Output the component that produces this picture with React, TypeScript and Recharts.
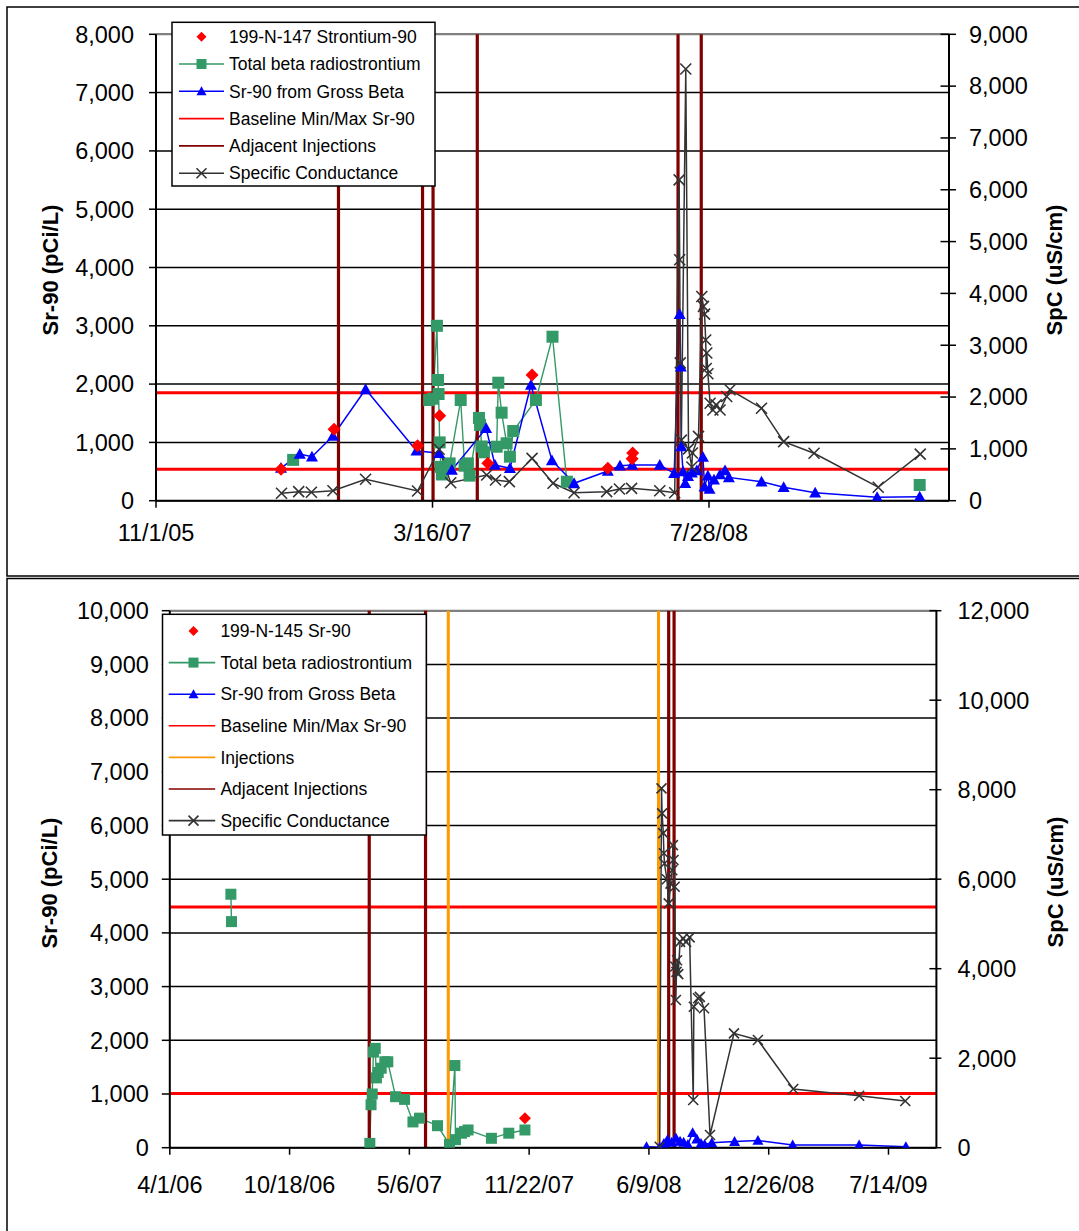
import React from "react";
import { ComposedChart, Line, XAxis, YAxis, CartesianGrid, ReferenceLine } from "recharts";

const RED = "#FF0000";
const GREEN = "#339966";
const BLUE = "#0000FF";
const DARK_RED = "#800000";
const ORANGE = "#FF9900";
const SPC = "#333333";
const FONT = '"Liberation Sans", Arial, Helvetica, sans-serif';
const TICK_FONT = 23.5;

type Row = [string, number | null];

// ---------- upper panel: well 199-N-147 ----------
const topXTicks = ["2005-11-01", "2007-03-16", "2008-07-28"];
const topXEnd = "2009-10-05";
const topLeftTicks = [0, 1000, 2000, 3000, 4000, 5000, 6000, 7000, 8000];
const topRightTicks = [0, 1000, 2000, 3000, 4000, 5000, 6000, 7000, 8000, 9000];
const topBaselines = [540, 1853];
const topInjections: string[] = [];
const topAdjacent = ["2006-09-27", "2007-02-26", "2007-03-17", "2007-06-05", "2008-06-02", "2008-07-14"];

const topSr90: Row[] = [
  ["2006-06-15", 540], ["2006-09-19", 1225], ["2007-02-17", 943], ["2007-03-29", 1458],
  ["2007-06-24", 641], ["2007-09-12", 2156], ["2008-01-27", 556], ["2008-03-11", 720],
  ["2008-03-12", 820],
];

const topTotalBeta: Row[] = [
  ["2006-07-07", 700], ["2006-12-01", null],
  ["2007-03-10", 1727], ["2007-03-17", 1750], ["2007-03-24", 3000], ["2007-03-26", 2070],
  ["2007-03-27", 1830], ["2007-03-29", 1000], ["2007-03-31", 580], ["2007-04-02", 450],
  ["2007-04-09", 560], ["2007-04-16", 640], ["2007-05-06", 1727], ["2007-05-13", 600],
  ["2007-05-19", 640], ["2007-05-22", 430], ["2007-06-08", 1420], ["2007-06-10", 1300],
  ["2007-06-13", 930], ["2007-06-17", 830], ["2007-07-10", 926], ["2007-07-13", 2024],
  ["2007-07-19", 1510], ["2007-07-28", 985], ["2007-08-03", 755], ["2007-08-09", 1195],
  ["2007-09-19", 1727], ["2007-10-19", 2813], ["2007-11-14", 326], ["2008-12-01", null],
  ["2009-08-13", 270],
];

const topGrossBeta: Row[] = [
  ["2006-06-15", 560], ["2006-07-19", 800], ["2006-08-10", 755], ["2006-09-17", 1110],
  ["2006-11-15", 1910], ["2007-02-15", 858], ["2007-03-28", 813], ["2007-04-20", 527],
  ["2007-06-21", 1242], ["2007-07-07", 612], ["2007-08-03", 556], ["2007-09-10", 1985],
  ["2007-10-18", 690], ["2007-11-27", 298], ["2008-01-27", 509], ["2008-02-18", 600],
  ["2008-03-11", 612], ["2008-04-30", 612], ["2008-05-26", 470], ["2008-06-05", 3200],
  ["2008-06-07", 2300], ["2008-06-08", 930], ["2008-06-11", 500], ["2008-06-15", 300],
  ["2008-06-20", 420], ["2008-06-27", 480], ["2008-07-06", 520], ["2008-07-17", 750],
  ["2008-07-20", 240], ["2008-07-26", 430], ["2008-07-29", 200], ["2008-08-06", 360],
  ["2008-08-17", 450], ["2008-08-26", 520], ["2008-09-02", 400], ["2008-10-31", 326],
  ["2008-12-10", 230], ["2009-02-05", 137], ["2009-05-28", 58], ["2009-08-13", 69],
];

const topSpc: Row[] = [
  ["2006-06-16", 143], ["2006-07-17", 174], ["2006-08-09", 162], ["2006-09-17", 193],
  ["2006-11-15", 413], ["2007-02-17", 187], ["2007-03-28", 992], ["2007-04-18", 347],
  ["2007-06-22", 496], ["2007-07-08", 400], ["2007-08-02", 367], ["2007-09-12", 818],
  ["2007-10-20", 336], ["2007-11-27", 154], ["2008-01-25", 174], ["2008-02-17", 226],
  ["2008-03-10", 239], ["2008-04-30", 193], ["2008-05-27", 154], ["2008-06-04", 6190],
  ["2008-06-05", 4650], ["2008-06-06", 2660], ["2008-06-08", 1170], ["2008-06-16", 8330],
  ["2008-06-21", 1000], ["2008-06-27", 650], ["2008-06-28", 920], ["2008-07-09", 1240],
  ["2008-07-15", 3940], ["2008-07-18", 3750], ["2008-07-20", 3600], ["2008-07-22", 3100],
  ["2008-07-23", 2550], ["2008-07-24", 2850], ["2008-07-26", 2450], ["2008-07-30", 1880],
  ["2008-08-04", 1750], ["2008-08-10", 1850], ["2008-08-17", 1750], ["2008-08-29", 2010],
  ["2008-09-04", 2140], ["2008-10-31", 1785], ["2008-12-10", 1140], ["2009-02-03", 915],
  ["2009-05-30", 260], ["2009-08-14", 900],
];

// ---------- lower panel: well 199-N-145 ----------
const botXTicks = ["2006-04-01", "2006-10-18", "2007-05-06", "2007-11-22", "2008-06-09", "2008-12-26", "2009-07-14"];
const botXEnd = "2009-10-02";
const botLeftTicks = [0, 1000, 2000, 3000, 4000, 5000, 6000, 7000, 8000, 9000, 10000];
const botRightTicks = [0, 2000, 4000, 6000, 8000, 10000, 12000];
const botBaselines = [1010, 4480];
const botInjections = ["2007-07-10", "2008-06-25"];
const botAdjacent = ["2007-02-28", "2007-06-02", "2008-07-12", "2008-07-21"];

const botSr90: Row[] = [["2007-11-15", 547]];

const botTotalBeta: Row[] = [
  ["2006-07-12", 4720], ["2006-07-13", 4210], ["2006-11-01", null],
  ["2007-03-01", 80], ["2007-03-03", 800], ["2007-03-05", 1000], ["2007-03-07", 1780],
  ["2007-03-10", 1850], ["2007-03-12", 1300], ["2007-03-15", 1400], ["2007-03-20", 1480],
  ["2007-03-26", 1600], ["2007-03-31", 1600], ["2007-04-13", 950], ["2007-04-28", 900],
  ["2007-05-12", 480], ["2007-05-23", 550], ["2007-06-22", 410], ["2007-07-12", 60],
  ["2007-07-21", 1530], ["2007-07-22", 150], ["2007-08-01", 270], ["2007-08-06", 300],
  ["2007-08-12", 330], ["2007-09-20", 175], ["2007-10-19", 270], ["2007-11-15", 330],
];

const botGrossBeta: Row[] = [
  ["2008-06-05", 20], ["2008-06-27", 10], ["2008-07-04", 80], ["2008-07-10", 150],
  ["2008-07-17", 100], ["2008-07-24", 180], ["2008-07-31", 120], ["2008-08-06", 100],
  ["2008-08-13", 60], ["2008-08-21", 280], ["2008-08-28", 160], ["2008-09-04", 80],
  ["2008-09-10", 60], ["2008-09-22", 90], ["2008-10-30", 115], ["2008-12-08", 135],
  ["2009-02-04", 50], ["2009-05-26", 50], ["2009-08-12", 20],
];

const botSpc: Row[] = [
  ["2008-06-27", 20], ["2008-06-30", 8030], ["2008-07-01", 7470], ["2008-07-03", 7030],
  ["2008-07-04", 6580], ["2008-07-05", 6350], ["2008-07-09", 6000], ["2008-07-12", 5460],
  ["2008-07-15", 5900], ["2008-07-18", 6200], ["2008-07-19", 6760], ["2008-07-20", 6430],
  ["2008-07-22", 5830], ["2008-07-23", 4050], ["2008-07-24", 3300], ["2008-07-25", 3930],
  ["2008-07-26", 4190], ["2008-07-28", 3880], ["2008-07-31", 4600], ["2008-08-05", 4680],
  ["2008-08-10", 4600], ["2008-08-16", 4700], ["2008-08-22", 1066], ["2008-08-23", 3150],
  ["2008-08-30", 3340], ["2008-09-02", 3370], ["2008-09-09", 3115], ["2008-09-19", 284],
  ["2008-10-29", 2556], ["2008-12-08", 2407], ["2009-02-05", 1312], ["2009-05-26", 1162],
  ["2009-08-11", 1043],
];

// Excel-style day serials so the axis ticks land on the same dates
const toSerial = (d: string) => {
  const [y, m, dd] = d.split("-").map(Number);
  return Date.UTC(y, m - 1, dd) / 86400000 + 25569;
};
const fmtDate = (s: number) => {
  const dt = new Date(Math.round(s - 25569) * 86400000);
  return `${dt.getUTCMonth() + 1}/${dt.getUTCDate()}/${String(dt.getUTCFullYear()).slice(2)}`;
};
const fmtNum = (v: number) => v.toLocaleString("en-US");
const series = (rows: Row[]) => rows.map(([d, v]) => ({ t: toSerial(d), v }));

type MarkKind = "diamond" | "square" | "triangle" | "cross";

function Marker({ kind, cx, cy, size, color }: { kind: MarkKind; cx: any; cy: any; size: number; color: string }) {
  if (cx == null || cy == null || isNaN(cx) || isNaN(cy)) return <g />;
  const h = size / 2;
  if (kind === "diamond")
    return <path d={`M${cx},${cy - h}L${cx + h},${cy}L${cx},${cy + h}L${cx - h},${cy}Z`} fill={color} />;
  if (kind === "square") return <rect x={cx - h} y={cy - h} width={size} height={size} fill={color} />;
  if (kind === "triangle")
    return <path d={`M${cx},${cy - h}L${cx + h},${cy + h * 0.8}L${cx - h},${cy + h * 0.8}Z`} fill={color} />;
  return (
    <path
      d={`M${cx - h},${cy - h}L${cx + h},${cy + h}M${cx + h},${cy - h}L${cx - h},${cy + h}`}
      stroke={color}
      strokeWidth={1.6}
      fill="none"
    />
  );
}

const dotOf = (kind: MarkKind, color: string, size: number) => (p: any) =>
  <Marker key={`${kind}-${p.index}`} kind={kind} cx={p.cx} cy={p.cy} size={size} color={color} />;

const rightTick = (inside: number, outside: number, gap: number) => (t: any) => {
  const ax = t.x - gap;
  return (
    <g>
      <line x1={ax - inside} x2={ax + outside} y1={t.y} y2={t.y} stroke="#000" strokeWidth={1.5} />
      <text x={t.x} y={t.y} dy="0.355em" textAnchor="start" fontSize={TICK_FONT} fontFamily={FONT} fill="#000">
        {fmtNum(t.payload.value)}
      </text>
    </g>
  );
};

type PanelProps = {
  height: number;
  margin: { top: number; right: number; bottom: number; left: number };
  axisW: number;
  xTicks: string[];
  xEnd: string;
  leftTicks: number[];
  rightTicks: number[];
  sr90: Row[];
  totalBeta: Row[];
  grossBeta: Row[];
  spc: Row[];
  baselines: number[];
  injections: string[];
  adjacent: string[];
  xGap: number;
  leftTickSize: number;
  leftGap: number;
  rIn: number;
  rOut: number;
  rGap: number;
  mark: number;
};

function WellChart(p: PanelProps) {
  const leftMax = p.leftTicks[p.leftTicks.length - 1];
  const rightMax = p.rightTicks[p.rightTicks.length - 1];
  const tickStyle = { fill: "#000", fontSize: TICK_FONT, fontFamily: FONT };
  return (
    <ComposedChart width={1079} height={p.height} margin={p.margin}>
      <CartesianGrid yAxisId="l" vertical={false} stroke="#000" strokeWidth={1.5} />
      <XAxis
        type="number"
        dataKey="t"
        domain={[toSerial(p.xTicks[0]), toSerial(p.xEnd)]}
        ticks={p.xTicks.map(toSerial)}
        tickFormatter={fmtDate}
        interval={0}
        allowDataOverflow
        height={40}
        tickSize={7}
        tickMargin={p.xGap}
        axisLine={{ stroke: "#000", strokeWidth: 2 }}
        tickLine={{ stroke: "#000", strokeWidth: 1.5 }}
        tick={tickStyle}
      />
      <YAxis
        yAxisId="l"
        type="number"
        domain={[0, leftMax]}
        ticks={p.leftTicks}
        interval={0}
        allowDataOverflow
        width={p.axisW}
        tickFormatter={fmtNum}
        tickSize={p.leftTickSize}
        tickMargin={p.leftGap}
        axisLine={{ stroke: "#000", strokeWidth: 2 }}
        tickLine={{ stroke: "#000", strokeWidth: 1.5 }}
        tick={tickStyle}
      />
      <YAxis
        yAxisId="r"
        orientation="right"
        type="number"
        domain={[0, rightMax]}
        ticks={p.rightTicks}
        interval={0}
        allowDataOverflow
        width={p.axisW}
        tickSize={p.rOut}
        tickMargin={p.rGap - p.rOut}
        tickLine={false}
        axisLine={{ stroke: "#000", strokeWidth: 2 }}
        tick={rightTick(p.rIn, p.rOut, p.rGap)}
      />
      <ReferenceLine yAxisId="l" y={leftMax} stroke="#808080" strokeWidth={2} />
      {p.baselines.map((v) => (
        <ReferenceLine key={`b${v}`} yAxisId="l" y={v} stroke={RED} strokeWidth={3} />
      ))}
      <Line
        yAxisId="l"
        data={series(p.totalBeta)}
        dataKey="v"
        stroke={GREEN}
        strokeWidth={1.4}
        dot={dotOf("square", GREEN, p.mark)}
        activeDot={false}
        isAnimationActive={false}
      />
      <Line
        yAxisId="l"
        data={series(p.grossBeta)}
        dataKey="v"
        stroke={BLUE}
        strokeWidth={1.5}
        dot={dotOf("triangle", BLUE, p.mark)}
        activeDot={false}
        isAnimationActive={false}
      />
      <Line
        yAxisId="l"
        data={series(p.sr90)}
        dataKey="v"
        stroke="none"
        dot={dotOf("diamond", RED, p.mark + 1)}
        activeDot={false}
        isAnimationActive={false}
      />
      {p.injections.map((d) => (
        <ReferenceLine key={`i${d}`} yAxisId="l" x={toSerial(d)} stroke={ORANGE} strokeWidth={3} />
      ))}
      {p.adjacent.map((d) => (
        <ReferenceLine key={`a${d}`} yAxisId="l" x={toSerial(d)} stroke={DARK_RED} strokeWidth={3.2} />
      ))}
      <Line
        yAxisId="r"
        data={series(p.spc)}
        dataKey="v"
        stroke={SPC}
        strokeWidth={1.5}
        dot={dotOf("cross", SPC, p.mark - 1)}
        activeDot={false}
        isAnimationActive={false}
      />
    </ComposedChart>
  );
}

type LegendRow = { label: string; color: string; line: boolean; kind?: MarkKind };

function LegendBox(props: {
  x: number; y: number; w: number; h: number; rows: LegendRow[];
  first: number; gap: number; lx1: number; lx2: number; mx: number; tx: number;
}) {
  const { x, y, w, h, rows, first, gap, lx1, lx2, mx, tx } = props;
  return (
    <g>
      <rect x={x} y={y} width={w} height={h} fill="#fff" stroke="#000" strokeWidth={1.5} />
      {rows.map((r, i) => {
        const cy = first + i * gap;
        return (
          <g key={r.label}>
            {r.line && <line x1={lx1} x2={lx2} y1={cy} y2={cy} stroke={r.color} strokeWidth={1.6} />}
            {r.kind && <Marker kind={r.kind} cx={mx} cy={cy} size={10} color={r.color} />}
            <text x={tx} y={cy} dy="0.355em" fontSize={17.5} fontFamily={FONT} fill="#000">
              {r.label}
            </text>
          </g>
        );
      })}
    </g>
  );
}

const topLegend: LegendRow[] = [
  { label: "199-N-147 Strontium-90", color: RED, line: false, kind: "diamond" },
  { label: "Total beta radiostrontium", color: GREEN, line: true, kind: "square" },
  { label: "Sr-90 from Gross Beta", color: BLUE, line: true, kind: "triangle" },
  { label: "Baseline Min/Max Sr-90", color: RED, line: true },
  { label: "Adjacent Injections", color: DARK_RED, line: true },
  { label: "Specific Conductance", color: SPC, line: true, kind: "cross" },
];

const botLegend: LegendRow[] = [
  { label: "199-N-145 Sr-90", color: RED, line: false, kind: "diamond" },
  { label: "Total beta radiostrontium", color: GREEN, line: true, kind: "square" },
  { label: "Sr-90 from Gross Beta", color: BLUE, line: true, kind: "triangle" },
  { label: "Baseline Min/Max Sr-90", color: RED, line: true },
  { label: "Injections", color: ORANGE, line: true },
  { label: "Adjacent Injections", color: DARK_RED, line: true },
  { label: "Specific Conductance", color: SPC, line: true, kind: "cross" },
];

function SideTitle({ x, y, text }: { x: number; y: number; text: string }) {
  return (
    <text
      x={x}
      y={y}
      transform={`rotate(-90 ${x} ${y})`}
      textAnchor="middle"
      dy="0.355em"
      fontSize={22}
      fontWeight="bold"
      fontFamily={FONT}
      fill="#000"
    >
      {text}
    </text>
  );
}

export default function App() {
  return (
    <div style={{ position: "absolute", left: 0, top: 0, width: 1079, height: 1231, background: "#fff", overflow: "hidden" }}>
      <div style={{ position: "absolute", left: 0, top: 0 }}>
        <WellChart
          height={578}
          margin={{ top: 34.3, right: 30, bottom: 37.3, left: 56 }}
          axisW={100}
          xTicks={topXTicks}
          xEnd={topXEnd}
          leftTicks={topLeftTicks}
          rightTicks={topRightTicks}
          sr90={topSr90}
          totalBeta={topTotalBeta}
          grossBeta={topGrossBeta}
          spc={topSpc}
          baselines={topBaselines}
          injections={topInjections}
          adjacent={topAdjacent}
          xGap={17}
          leftTickSize={7}
          leftGap={15}
          rIn={8.5}
          rOut={7}
          rGap={20}
          mark={12}
        />
      </div>
      <div style={{ position: "absolute", left: 0, top: 578 }}>
        <WellChart
          height={653}
          margin={{ top: 32.7, right: 32.6, bottom: 43.3, left: 59.8 }}
          axisW={110}
          xTicks={botXTicks}
          xEnd={botXEnd}
          leftTicks={botLeftTicks}
          rightTicks={botRightTicks}
          sr90={botSr90}
          totalBeta={botTotalBeta}
          grossBeta={botGrossBeta}
          spc={botSpc}
          baselines={botBaselines}
          injections={botInjections}
          adjacent={botAdjacent}
          xGap={22}
          leftTickSize={8}
          leftGap={13}
          rIn={7}
          rOut={5}
          rGap={21}
          mark={11}
        />
      </div>
      <svg
        width={1079}
        height={1231}
        style={{ position: "absolute", left: 0, top: 0, pointerEvents: "none" }}
      >
        <rect x={7} y={7} width={1100} height={569} fill="none" stroke="#000" strokeWidth={1.5} />
        <rect x={7} y={578.5} width={1100} height={700} fill="none" stroke="#000" strokeWidth={1.5} />
        <SideTitle x={50} y={270} text="Sr-90 (pCi/L)" />
        <SideTitle x={1054} y={270} text="SpC (uS/cm)" />
        <SideTitle x={49} y={883} text="Sr-90 (pCi/L)" />
        <SideTitle x={1055} y={882} text="SpC (uS/cm)" />
        <LegendBox
          x={172} y={22.3} w={263} h={163.7} rows={topLegend}
          first={36.7} gap={27.3} lx1={179} lx2={224} mx={201.5} tx={229}
        />
        <LegendBox
          x={162.5} y={614.3} w={263.8} h={220.7} rows={botLegend}
          first={631} gap={31.6} lx1={168.7} lx2={215.2} mx={193.5} tx={220.4}
        />
      </svg>
    </div>
  );
}
